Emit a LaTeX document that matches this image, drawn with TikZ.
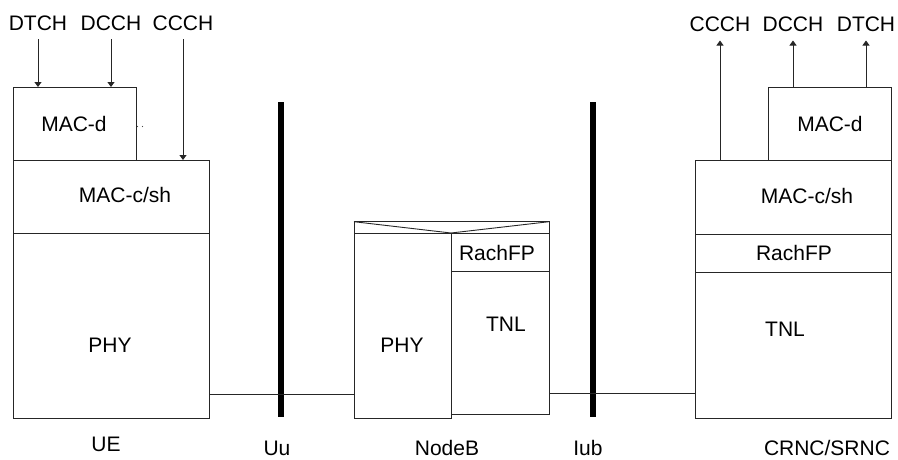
\documentclass[tikz,border=0pt]{standalone}
\usepackage{fontspec}
\setmainfont{Liberation Sans}
\usetikzlibrary{arrows.meta}
\begin{document}
\begin{tikzpicture}[x=1pt,y=-1pt,
  box/.style={draw=black!85, line width=0.9pt, inner sep=0pt, outer sep=0pt, anchor=north west},
  bar/.style={fill=black, draw=none, inner sep=0pt, outer sep=0pt, minimum width=5.5pt, minimum height=315pt, anchor=north},
  lbl/.style={inner sep=0pt, anchor=base, font=\fontsize{21}{25}\selectfont},
  link/.style={draw=black!85, line width=0.9pt},
  arr/.style={draw=black!85, line width=0.9pt, -{Triangle[length=5pt,width=7pt]}},
  rarr/.style={draw=black!85, line width=0.9pt, {Triangle[length=5pt,width=7pt]}-}
]
\useasboundingbox (0,0) rectangle (898,459);

% ---------- UE ----------
\node[box, minimum width=123pt, minimum height=73pt] (uemacd) at (13,87) {};
\node[box, minimum width=196pt, minimum height=73pt] (uemacc) at (13,160) {};
\node[box, minimum width=196pt, minimum height=185pt] (uephy) at (13,233) {};
\node[lbl] (tuemacd) at (74,131) {MAC-d};
\node[lbl] (tuemacc) at (125,202) {MAC-c/sh};
\node[lbl] (tuephy) at (110,352) {PHY};
\fill[black!70] (137.5,126.5) circle (0.6pt) (142.5,126.5) circle (0.6pt);

\node[lbl] (udtch) at (38,30) {DTCH};
\node[lbl] (udcch) at (111,30) {DCCH};
\node[lbl] (uccch) at (183,30) {CCCH};
\draw[arr, shorten <=9pt] (udtch.base) -- (uemacd.north -| udtch.base);
\draw[arr, shorten <=9pt] (udcch.base) -- (uemacd.north -| udcch.base);
\draw[arr, shorten <=9pt] (uccch.base) -- (uemacc.north -| uccch.base);

% ---------- Uu / Iub ----------
\node[bar] (uu) at (281,102) {};
\node[bar] (iub) at (593,102) {};

% ---------- NodeB ----------
\node[box, minimum width=195pt, minimum height=11.3pt] (nbtop) at (354,221.7) {};
\node[box, minimum width=97pt, minimum height=185pt] (nbphy) at (354,233) {};
\node[box, minimum width=98pt, minimum height=38.7pt] (nbrach) at (451,233) {};
\node[box, minimum width=98pt, minimum height=142.3pt] (nbtnl) at (451,271.7) {};
\draw[link] (nbtop.north west) -- (nbphy.north east) -- (nbtop.north east);
\node[lbl] (tnbphy) at (402,352) {PHY};
\node[lbl] (tnbrach) at (497,260) {RachFP};
\node[lbl] (tnbtnl) at (506,331) {TNL};

% ---------- CRNC/SRNC ----------
\node[box, minimum width=123pt, minimum height=73pt] (cmacd) at (768,87) {};
\node[box, minimum width=196pt, minimum height=74pt] (cmacc) at (695,160) {};
\node[box, minimum width=196pt, minimum height=38pt] (crach) at (695,234) {};
\node[box, minimum width=196pt, minimum height=146pt] (ctnl) at (695,272) {};
\node[lbl] (tcmacd) at (830,131) {MAC-d};
\node[lbl] (tcmacc) at (807,203) {MAC-c/sh};
\node[lbl] (tcrach) at (794,260) {RachFP};
\node[lbl] (tctnl) at (785,336) {TNL};

\node[lbl] (cccch) at (720,31.5) {CCCH};
\node[lbl] (cdcch) at (793,31.5) {DCCH};
\node[lbl] (cdtch) at (866,31.5) {DTCH};
\draw[rarr, shorten <=9pt] (cccch.base) -- (cmacc.north -| cccch.base);
\draw[rarr, shorten <=9pt] (cdcch.base) -- (cmacd.north -| cdcch.base);
\draw[rarr, shorten <=9pt] (cdtch.base) -- (cmacd.north -| cdtch.base);

% ---------- links ----------
\coordinate (l1) at (0,394);
\coordinate (l2) at (0,393);
\draw[link] (uephy.east |- l1) -- (nbphy.west |- l1);
\draw[link] (nbtnl.east |- l2) -- (ctnl.west |- l2);

% ---------- bottom labels ----------
\node[lbl] (tue) at (106,451) {UE};
\node[lbl] (tuu) at (277,455) {Uu};
\node[lbl] (tnodeb) at (447,455) {NodeB};
\node[lbl] (tiub) at (588,455) {Iub};
\node[lbl] (tcrnc) at (827,455) {CRNC/SRNC};
\end{tikzpicture}
\end{document}
